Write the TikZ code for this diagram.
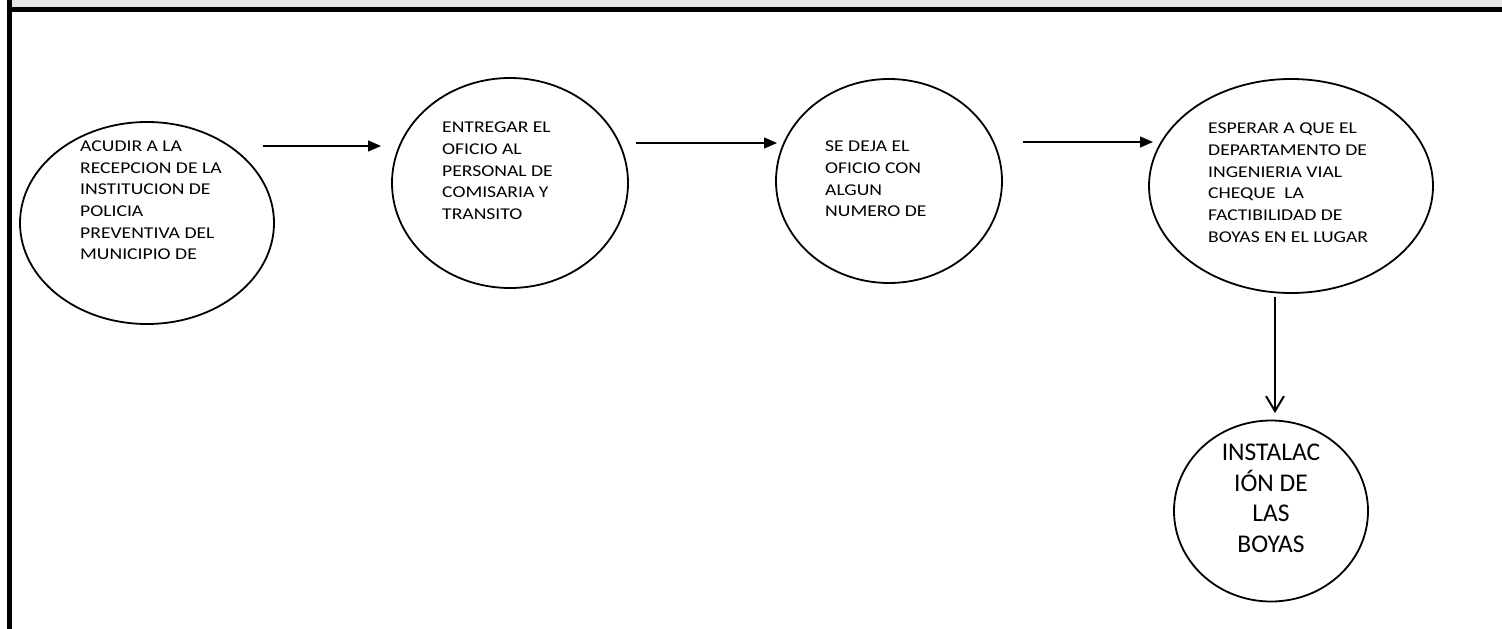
\documentclass[tikz,border=0pt]{standalone}
\usepackage{fontspec}
\setmainfont{Carlito}
\newfontfamily\pasofont[FakeStretch=1.19]{Carlito}
\usetikzlibrary{shapes.geometric,arrows.meta}

\begin{document}
\begin{tikzpicture}[x=1pt,y=-1pt,
  paso/.style={ellipse,draw,line width=1.8pt,inner sep=0pt},
  texto/.style={anchor=north west,align=left,inner sep=0pt,font=\pasofont\fontsize{16.5}{21.7}\selectfont},
  flecha/.style={line width=1.3pt,-{Triangle[length=13pt,width=11pt]}}]
\useasboundingbox (0,0) rectangle (1502,629);
% marco
\fill[black!10] (12,0) rectangle (1502,7);
\fill (7,7) rectangle (1502,12);
\fill (7,0) rectangle (12,629);

% pasos
\node[paso,minimum width=254,minimum height=202] (p1) at (147,223) {};
\node[paso,minimum width=236,minimum height=210] (p2) at (510,183) {};
\node[paso,minimum width=226,minimum height=204] (p3) at (889,181) {};
\node[paso,minimum width=284,minimum height=214] (p4) at (1291,186) {};
\node[paso,minimum width=194,minimum height=181] (p5) at (1271,511) {};

\node[texto] (t1) at (80,140.5) {ACUDIR A LA\\RECEPCION DE LA\\INSTITUCION DE\\POLICIA\\PREVENTIVA DEL\\MUNICIPIO DE};
\node[texto] (t2) at (442,121.7) {ENTREGAR EL\\OFICIO AL\\PERSONAL DE\\COMISARIA Y\\TRANSITO};
\node[texto] (t3) at (825,140.7) {SE DEJA EL\\OFICIO CON\\ALGUN\\NUMERO DE};
\node[texto] (t4) at (1208,122.7) {ESPERAR A QUE EL\\DEPARTAMENTO DE\\INGENIERIA VIAL\\CHEQUE~ LA\\FACTIBILIDAD DE\\BOYAS EN EL LUGAR};
\node[anchor=north,align=center,inner sep=0pt,font=\fontsize{25.5}{30.7}\selectfont] (t5) at (1271,443.6) {INSTALAC\\IÓN DE\\LAS\\BOYAS};

% flechas
\coordinate (a1i) at (263,146);
\coordinate (a1f) at (381,146);
\coordinate (a2i) at (636,143);
\coordinate (a2f) at (777,143);
\coordinate (a3i) at (1023,142);
\coordinate (a3f) at (1153,142);
\coordinate (a4i) at (1275,297);
\coordinate (a4f) at (1275,413);
\draw[flecha] (a1i) -- (a1f);
\draw[flecha] (a2i) -- (a2f);
\draw[flecha] (a3i) -- (a3f);
\draw[line width=2pt,-{Straight Barb[length=15pt,width=18pt]}] (a4i) -- (a4f);

\end{tikzpicture}
\end{document}
